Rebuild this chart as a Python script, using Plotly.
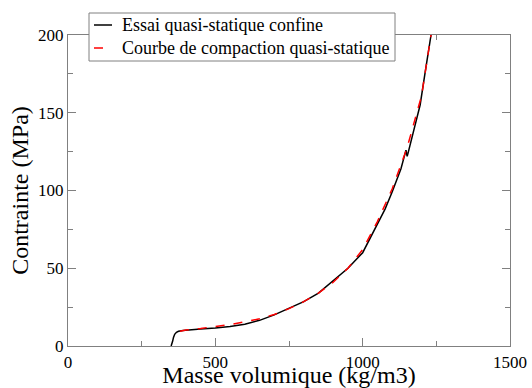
import plotly.graph_objects as go

# Essai quasi-statique confine (black)
essai_x = [350, 352, 355, 358, 362, 368, 375, 390, 410, 450, 500, 550, 600, 650, 700,
           750, 800, 850, 900, 950, 1000, 1050, 1076, 1100, 1130, 1147, 1151, 1154, 1165,
           1180, 1195, 1212, 1232]
essai_y = [0, 1, 3, 5.5, 7.5, 8.8, 9.5, 10, 10.4, 10.9, 11.5, 12.5, 14, 16.5, 20,
           24.3, 28.5, 34, 42, 50, 60, 78, 88, 99, 114, 126, 122, 124, 132,
           143, 155, 176, 200]

# Courbe de compaction quasi-statique (red dashed)
courbe_x = [380, 400, 450, 500, 550, 600, 650, 700, 750, 800, 850, 900, 950, 1000,
            1050, 1100, 1150, 1200, 1232]
courbe_y = [9.5, 10.3, 11.3, 12.5, 13.8, 15.5, 17.5, 20.3, 24, 28.5, 34, 41, 50, 62,
            80, 101, 127, 161, 200]

x_ticks = [0, 500, 1000, 1500]
y_ticks = [0, 50, 100, 150, 200]
legend_labels = ["Essai quasi-statique confine", "Courbe de compaction quasi-statique"]

SERIF = "Liberation Serif"

fig = go.Figure()
fig.add_trace(go.Scatter(x=essai_x, y=essai_y, mode="lines",
                         name=legend_labels[0], showlegend=False,
                         line=dict(color="black", width=1.5)))
fig.add_trace(go.Scatter(x=courbe_x, y=courbe_y, mode="lines",
                         name=legend_labels[1], showlegend=False,
                         line=dict(color="#ff0000", width=1.5, dash="dash")))

axis_common = dict(
    showgrid=False, zeroline=False, showline=True, linecolor="#808080", linewidth=1.2,
    mirror="allticks", ticks="inside", ticklen=8, tickcolor="#808080", tickwidth=1,
    tickfont=dict(family=SERIF, size=17, color="black"), automargin=False,
)

fig.update_xaxes(range=[0, 1500], tickvals=x_ticks,
                 minor=dict(ticks="inside", ticklen=5, tickcolor="#808080", dtick=250, tick0=0),
                 title=dict(text="Masse volumique (kg/m3)", font=dict(family=SERIF, size=24, color="black"), standoff=0),
                 **axis_common)
fig.update_yaxes(range=[0, 200], tickvals=y_ticks,
                 minor=dict(ticks="inside", ticklen=5, tickcolor="#808080", dtick=25, tick0=0),
                 title=dict(text="Contrainte (MPa)", font=dict(family=SERIF, size=24, color="black"), standoff=2),
                 **axis_common)

# Legend box drawn in paper coordinates (plot area: x 68..510 px, y 35..346 px)
def px_x(p):
    return (p - 68) / 442.0

def px_y(p):
    return (346 - p) / 311.0

fig.add_shape(type="rect", xref="paper", yref="paper",
              x0=px_x(89), x1=px_x(395), y0=px_y(61), y1=px_y(13),
              line=dict(color="#808080", width=1), fillcolor="white", layer="above")
fig.add_shape(type="line", xref="paper", yref="paper",
              x0=px_x(94), x1=px_x(112), y0=px_y(25), y1=px_y(25),
              line=dict(color="black", width=1.5), layer="above")
fig.add_shape(type="line", xref="paper", yref="paper",
              x0=px_x(94), x1=px_x(112), y0=px_y(48), y1=px_y(48),
              line=dict(color="#ff0000", width=1.5, dash="dash"), layer="above")
for label, ypx in zip(legend_labels, [25, 48]):
    fig.add_annotation(xref="paper", yref="paper", x=px_x(120), y=px_y(ypx),
                       text=label, showarrow=False, xanchor="left", yanchor="middle",
                       font=dict(family=SERIF, size=18, color="black"))

fig.update_layout(
    width=532, height=388,
    margin=dict(l=68, r=22, t=35, b=42, autoexpand=False),
    plot_bgcolor="white", paper_bgcolor="white",
    font=dict(family=SERIF, color="black"),
    showlegend=False,
)

fig.write_html("out.html", config={"displayModeBar": False},
               post_script="document.body.style.margin='0';document.body.style.padding='0';")
